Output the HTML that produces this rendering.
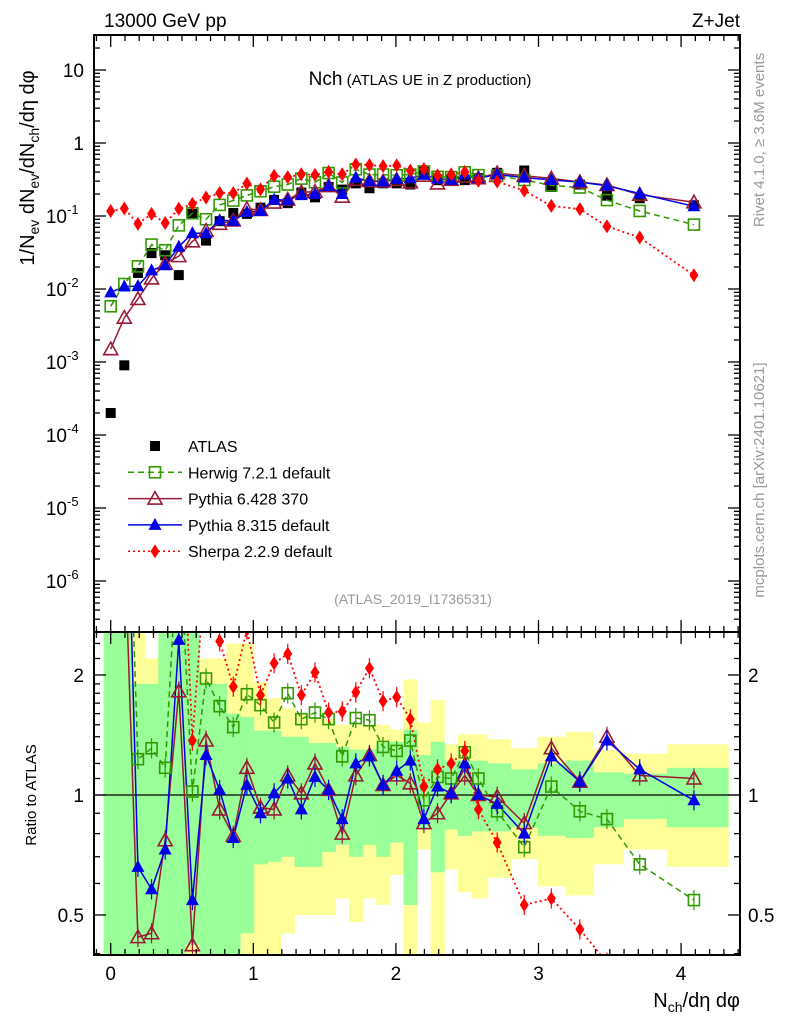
<!DOCTYPE html>
<html><head><meta charset="utf-8">
<style>
html,body{margin:0;background:#fff;width:786px;height:1024px;overflow:hidden;}
svg{display:block;font-family:"Liberation Sans",Arial,sans-serif;}
</style></head>
<body>
<svg id="chart" width="786" height="1024" viewBox="0 0 786 1024" xmlns="http://www.w3.org/2000/svg">
<defs>
<clipPath id="clipMain"><rect x="94" y="35" width="646" height="597"/></clipPath>
<clipPath id="clipRatio"><rect x="94" y="632" width="646" height="323"/></clipPath>
</defs>
<g id="bands" clip-path="url(#clipRatio)"></g>
<line x1="94" y1="795" x2="740" y2="795" stroke="#000" stroke-width="1.3"/>
<g id="mainMarks" clip-path="url(#clipMain)"></g>
<g id="ratioMarks" clip-path="url(#clipRatio)"></g>
<rect x="94" y="35" width="646" height="597" fill="none" stroke="#000" stroke-width="2"/>
<rect x="94" y="632" width="646" height="323" fill="none" stroke="#000" stroke-width="2"/>
<g id="axes"></g>

<text x="104" y="27" font-size="19">13000 GeV pp</text>
<text x="740" y="27" font-size="19" text-anchor="end">Z+Jet</text>
<text x="420" y="85" text-anchor="middle"><tspan font-size="19">Nch</tspan><tspan font-size="15"> (ATLAS UE in Z production)</tspan></text>
<text x="413" y="604" font-size="14" fill="#999" text-anchor="middle">(ATLAS_2019_I1736531)</text>
<text transform="translate(764,140) rotate(-90)" font-size="15" fill="#999" text-anchor="middle">Rivet 4.1.0, ≥ 3.6M events</text>
<text transform="translate(764,480) rotate(-90)" font-size="15" fill="#999" text-anchor="middle">mcplots.cern.ch [arXiv:2401.10621]</text>
<text transform="translate(34,168) rotate(-90)" font-size="20" text-anchor="middle">1/N<tspan font-size="14" dy="5">ev</tspan><tspan dy="-5"> dN</tspan><tspan font-size="14" dy="5">ev</tspan><tspan dy="-5">/dN</tspan><tspan font-size="14" dy="5">ch</tspan><tspan dy="-5">/dη dφ</tspan></text>
<text transform="translate(36,795) rotate(-90)" font-size="15" text-anchor="middle">Ratio to ATLAS</text>
<text x="740" y="1007" font-size="20" text-anchor="end">N<tspan font-size="14" dy="5">ch</tspan><tspan dy="-5">/dη dφ</tspan></text>
<g id="legend"></g>
</svg>
<script>
const xs = [0,0.0955,0.191,0.2865,0.382,0.4775,0.573,0.6685,0.764,0.8595,0.955,1.0505,1.146,1.2415,1.337,1.4325,1.528,1.6235,1.719,1.8145,1.91,2.0055,2.101,2.1965,2.292,2.3875,2.483,2.5785,2.71,2.90,3.09,3.29,3.48,3.71,4.09];
const atlas = [0.0002,0.0009,0.0166,0.031,0.029,0.0155,0.107,0.046,0.085,0.11,0.107,0.13,0.166,0.15,0.21,0.18,0.25,0.23,0.28,0.24,0.28,0.28,0.27,0.42,0.31,0.31,0.31,0.33,0.39,0.42,0.25,0.27,0.19,0.175,0.14];
const herwigRatio = [29,13,1.23,1.31,1.17,4.8,1.02,1.96,1.67,1.48,1.79,1.68,1.52,1.80,1.55,1.61,1.55,1.25,1.56,1.54,1.32,1.29,1.37,0.97,1.11,1.10,1.28,1.10,0.91,0.74,1.05,0.91,0.87,0.67,0.545];
const pythia6Ratio = [7.5,4.5,0.44,0.45,0.77,1.82,0.42,1.37,0.92,0.79,1.17,0.93,0.92,1.12,1.01,1.20,1.03,0.80,1.12,1.26,1.06,1.12,1.07,0.85,0.90,1.01,1.12,1.0,0.99,0.85,1.31,1.08,1.40,1.12,1.10];
const pythia8Ratio = [45,12,0.66,0.58,0.73,2.45,0.545,1.26,1.03,0.78,1.06,0.90,1.01,1.10,0.92,1.11,1.03,0.87,1.20,1.25,1.06,1.15,1.22,0.87,1.05,1.01,1.20,1.0,0.95,0.80,1.25,1.08,1.37,1.16,0.97];
const sherpaRatio = [585,141,4.7,3.45,2.76,8.1,1.37,3.9,2.43,1.87,2.6,1.78,2.14,2.26,1.78,2.03,1.61,1.62,1.81,2.08,1.72,1.76,1.55,1.05,1.16,1.20,1.29,0.92,0.76,0.53,0.55,0.46,0.38,0.29,0.11];
const greenLo = [0.3,0.3,0.3,0.3,0.3,0.3,0.42,0.38,0.38,0.38,0.45,0.67,0.68,0.70,0.66,0.66,0.72,0.75,0.70,0.75,0.70,0.76,0.53,0.82,0.64,0.82,0.79,0.81,0.81,0.83,0.79,0.78,0.83,0.87,0.83];
const greenHi = [3,3,1.9,1.9,3,3,2.6,1.9,1.9,1.6,1.57,1.45,1.45,1.4,1.4,1.35,1.35,1.32,1.3,1.3,1.35,1.36,1.46,1.26,1.36,1.22,1.22,1.22,1.20,1.16,1.20,1.22,1.14,1.13,1.17];
const yellowLo = [0.3,0.3,0.3,0.3,0.3,0.3,0.38,0.38,0.38,0.38,0.38,0.38,0.40,0.45,0.5,0.5,0.5,0.55,0.48,0.55,0.53,0.63,0.39,0.73,0.39,0.65,0.57,0.55,0.62,0.69,0.59,0.56,0.67,0.73,0.66];
const yellowHi = [3,3,3,2.2,3,3,3,2.2,2.2,2.4,2.4,1.92,1.75,1.65,1.6,1.55,1.55,1.5,1.5,1.5,1.5,1.46,1.95,1.52,1.73,1.34,1.42,1.42,1.38,1.31,1.40,1.44,1.30,1.27,1.34];
const xTicks = [0,1,2,3,4];
const ratioTicks = [0.5,1,2];

const NS='http://www.w3.org/2000/svg';
const X0=110.7, XS=142.6;
function xp(v){return X0+v*XS;}
function ym(v){return 70+(1-Math.log10(v))*73;}
function yr(r){return 795-120*Math.log2(r);}
function mk(tag,attrs,parent){const e=document.createElementNS(NS,tag);for(const k in attrs)e.setAttribute(k,attrs[k]);parent.appendChild(e);return e;}

const bands=document.getElementById('bands');
const mainG=document.getElementById('mainMarks');
const ratG=document.getElementById('ratioMarks');
const axes=document.getElementById('axes');
const legend=document.getElementById('legend');

const edges=[];
edges.push(xs[0]-0.05);
for(let i=1;i<xs.length;i++)edges.push((xs[i-1]+xs[i])/2);
edges.push(4.33);

for(let i=0;i<xs.length;i++){
  const x1=xp(edges[i]), x2=xp(edges[i+1]);
  const yb=mk('rect',{x:x1,y:yr(yellowHi[i]),width:x2-x1+0.5,height:yr(yellowLo[i])-yr(yellowHi[i]),fill:'#ffff99'},bands);
  
  
}
for(let i=0;i<xs.length;i++){
  const x1=xp(edges[i]), x2=xp(edges[i+1]);
  const gb=mk('rect',{x:x1,y:yr(greenHi[i]),width:x2-x1+0.5,height:yr(greenLo[i])-yr(greenHi[i]),fill:'#99ff99'},bands);
  
  
}

function marker(g,type,x,y,name){
  let e;
  if(type==='atlas') e=mk('rect',{x:x-5,y:y-5,width:10,height:10,fill:'#000'},g);
  else if(type==='herwig') e=mk('rect',{x:x-5.5,y:y-5.5,width:11,height:11,fill:'none',stroke:'#339900','stroke-width':1.6},g);
  else if(type==='py6') e=mk('polygon',{points:`${x},${y-7} ${x-7},${y+5.5} ${x+7},${y+5.5}`,fill:'none',stroke:'#991a33','stroke-width':1.6},g);
  else if(type==='py8') e=mk('polygon',{points:`${x},${y-7} ${x-6.5},${y+5} ${x+6.5},${y+5}`,fill:'#0000e6'},g);
  else e=mk('polygon',{points:`${x},${y-7} ${x-4.5},${y} ${x},${y+7} ${x+4.5},${y}`,fill:'#ff0000'},g);
  
  
  return e;
}

const series=[
  {r:herwigRatio,type:'herwig',color:'#339900',dash:'6,4',w:1.5,name:'herwig'},
  {r:pythia6Ratio,type:'py6',color:'#991a33',dash:'',w:1.5,name:'pythia6'},
  {r:pythia8Ratio,type:'py8',color:'#0000e6',dash:'',w:1.5,name:'pythia8'},
  {r:sherpaRatio,type:'sherpa',color:'#ff0000',dash:'2,3',w:1.8,name:'sherpa'}
];

for(let i=0;i<xs.length;i++){marker(mainG,'atlas',xp(xs[i]),ym(atlas[i]),'atlas-point');}

series.forEach(s=>{
  const mp=xs.map((x,i)=>`${xp(x).toFixed(1)},${ym(atlas[i]*s.r[i]).toFixed(1)}`).join(' ');
  const l1=mk('polyline',{points:mp,fill:'none',stroke:s.color,'stroke-width':s.w,'stroke-dasharray':s.dash},mainG);
  
  
  const rp=xs.map((x,i)=>`${xp(x).toFixed(1)},${yr(s.r[i]).toFixed(1)}`).join(' ');
  const l2=mk('polyline',{points:rp,fill:'none',stroke:s.color,'stroke-width':s.w,'stroke-dasharray':s.dash},ratG);
  
  
});
series.forEach(s=>{
  for(let i=0;i<xs.length;i++){
    marker(mainG,s.type,xp(xs[i]),ym(atlas[i]*s.r[i]),s.name+'-point');
    const y=yr(s.r[i]);
    if(y>620&&y<970){
      const eb=mk('line',{x1:xp(xs[i]),x2:xp(xs[i]),y1:yr(s.r[i]*1.06),y2:yr(s.r[i]/1.06),stroke:s.color,'stroke-width':1.2},ratG);
      
      
      marker(ratG,s.type,xp(xs[i]),y,s.name+'-ratio-point');
    }
  }
});

function tl(x1,y1,x2,y2,name){const t=mk('line',{x1,y1,x2,y2,stroke:'#000','stroke-width':1.3},axes);}
function tx(x,y,s,anchor,size,name){const t=mk('text',{x,y,'font-size':size,'text-anchor':anchor},axes);t.textContent=s;return t;}
for(let v=-0.1;v<=4.41;v+=0.1){
  const vv=Math.round(v*10)/10;const x=xp(vv);if(x<94||x>740)continue;
  const major=Math.abs(vv-Math.round(vv))<1e-6;const L=major?12:6;
  tl(x,35,x,35+L,'x-tick');tl(x,632,x,632-L,'x-tick');tl(x,632,x,632+L,'x-tick');tl(x,955,x,955-L,'x-tick');
}
xTicks.forEach(v=>tx(xp(v),980,String(v),'middle',19,'x-tick-label'));
for(let d=-7;d<=1;d++){
  for(let m=1;m<10;m++){
    const v=m*Math.pow(10,d);const y=ym(v);if(y<35||y>632)continue;
    const L=m===1?12:6;tl(94,y,94+L,y,'y-tick');tl(740,y,740-L,y,'y-tick');
  }
}
const decLabels=[[10,'10',''],[1,'1',''],[0.1,'10','-1'],[0.01,'10','-2'],[0.001,'10','-3'],[1e-4,'10','-4'],[1e-5,'10','-5'],[1e-6,'10','-6']];
decLabels.forEach(d=>{
  const y=ym(d[0])+7;
  if(d[2]===''){tx(84,y,d[1],'end',19,'y-tick-label');}
  else{
    tx(67,y,d[1],'end',19,'y-tick-label');
    tx(67,y-9,d[2],'start',13,'y-tick-exponent');
  }
});
[0.4,0.5,0.6,0.7,0.8,0.9,1,1.1,1.2,1.3,1.4,1.5,1.6,1.7,1.8,1.9,2,2.2,2.4].forEach(r=>{
  const y=yr(r);if(y<632||y>955)return;const major=(r===0.5||r===1||r===2);const L=major?12:6;
  tl(94,y,94+L,y,'ratio-y-tick');tl(740,y,740-L,y,'ratio-y-tick');
});
ratioTicks.forEach(r=>{tx(84,yr(r)+7,String(r),'end',19,'ratio-tick-label-left');tx(748,yr(r)+7,String(r),'start',19,'ratio-tick-label-right');});

const leg=[['atlas','ATLAS',null,''],['herwig','Herwig 7.2.1 default','#339900','6,4'],['py6','Pythia 6.428 370','#991a33',''],['py8','Pythia 8.315 default','#0000e6',''],['sherpa','Sherpa 2.2.9 default','#ff0000','2,3']];
leg.forEach((e,i)=>{
  const y=446+i*26.3;
  if(e[2]){const l=mk('line',{x1:128,x2:182,y1:y,y2:y,stroke:e[2],'stroke-width':1.5,'stroke-dasharray':e[3]},legend);}
  marker(legend,e[0],155,y,'legend-marker');
  const t=mk('text',{x:188,y:y+6,'font-size':16},legend);t.textContent=e[1];
  
  
});
</script>
</body></html>
